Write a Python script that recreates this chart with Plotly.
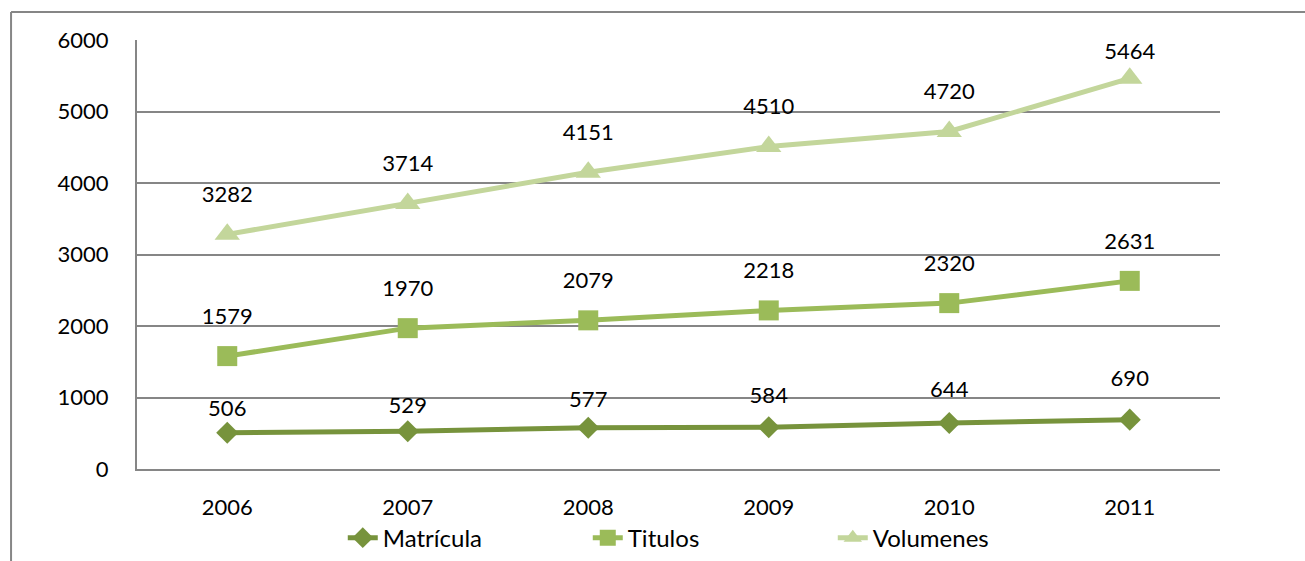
import plotly.graph_objects as go

years = ['2006', '2007', '2008', '2009', '2010', '2011']
matricula = [506, 529, 577, 584, 644, 690]
titulos = [1579, 1970, 2079, 2218, 2320, 2631]
volumenes = [3282, 3714, 4151, 4510, 4720, 5464]

# (name, values, colour, symbol, marker size, label offsets in px)
series = [
    ('Matrícula', matricula, '#77933C', 'diamond', 17, [23, 24, 26, 29, 30, 36]),
    ('Titulos', titulos, '#9BBB59', 'square', 20, [35] * 6),
    ('Volumenes', volumenes, '#C3D69B', 'triangle-up', 22, [35, 35, 35, 35, 35, 25]),
]

fig = go.Figure()
for name, vals, col, sym, sz, shifts in series:
    fig.add_trace(go.Scatter(
        x=years, y=vals, name=name,
        mode='lines+markers',
        line=dict(color=col, width=5),
        marker=dict(symbol=sym, size=sz, color=col),
    ))
for name, vals, col, sym, sz, shifts in series:
    # data labels: an invisible marker pushes the text up by the wanted offset
    fig.add_trace(go.Scatter(
        x=years, y=vals, mode='markers+text', showlegend=False, hoverinfo='skip',
        marker=dict(size=[2 * (s - 14.5) for s in shifts], opacity=0),
        text=[str(v) for v in vals], textposition='top center',
        textfont=dict(size=22, color='black'), cliponaxis=False,
    ))

fig.update_layout(
    width=1305, height=561,
    margin=dict(l=137, r=85, t=40, b=92, autoexpand=False),
    paper_bgcolor='white', plot_bgcolor='white',
    font=dict(family='Lato, Noto Sans, sans-serif', size=22, color='black'),
    showlegend=True,
    legend=dict(orientation='h', x=0.19, xanchor='left', y=-0.161, yanchor='middle',
                font=dict(size=24), entrywidth=200, entrywidthmode='pixels'),
    shapes=[
        dict(type='line', xref='paper', yref='paper', x0=-0.1163, x1=-0.1163,
             y0=-0.3, y1=1.0653, line=dict(color='#868686', width=2)),
        dict(type='line', xref='paper', yref='paper', x0=-0.1163, x1=1.1,
             y0=1.0653, y1=1.0653, line=dict(color='#868686', width=2)),
    ],
)
fig.update_xaxes(type='category', range=[-0.5, 5.5], showgrid=False,
                 showline=True, linecolor='#868686', linewidth=2, automargin=False,
                 ticks='', ticklabelstandoff=18, tickfont=dict(size=22))
fig.update_yaxes(range=[0, 6000], dtick=1000, showgrid=True, gridcolor='#868686',
                 gridwidth=2, showline=True, linecolor='#868686', linewidth=2,
                 zeroline=False, ticks='', ticklabelstandoff=22, automargin=False,
                 tickfont=dict(size=22))

fig.write_html('out.html', config={'displayModeBar': False},
               post_script="document.body.style.margin='0';")
